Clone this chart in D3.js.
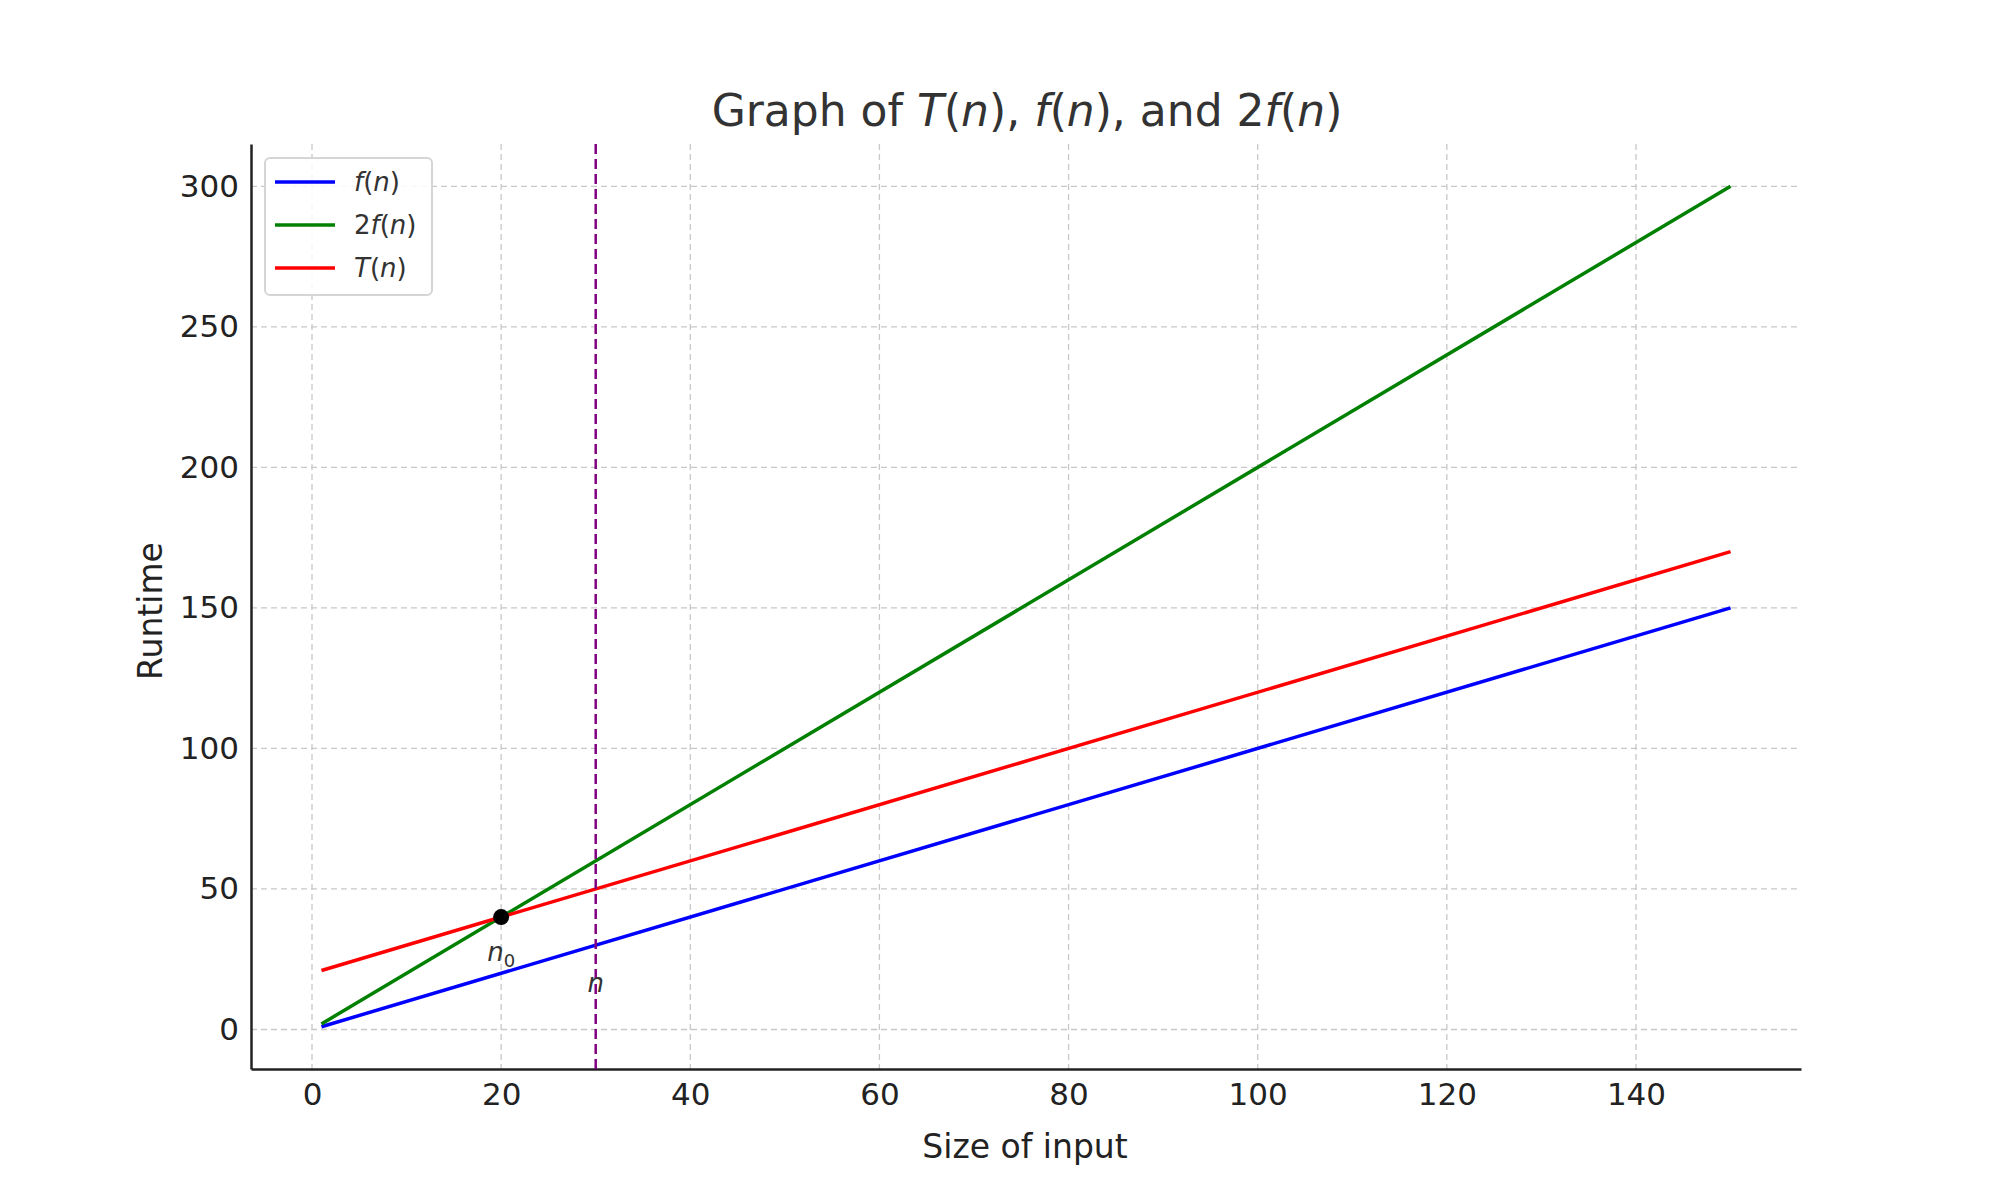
<!DOCTYPE html>
<html>
<head>
<script src="https://cdn.jsdelivr.net/npm/d3@7"></script>
<style>body{margin:0;background:#fff}text{font-family:"DejaVu Sans",sans-serif}</style>
</head>
<body>
<svg width="2000" height="1200" id="mainsvg"></svg>
<script>
// data
const nValues = [1, 150];
const fValues = [1, 150];
const twoFValues = [2, 300];
const tValues = [21, 170];
const xTicks = [0, 20, 40, 60, 80, 100, 120, 140];
const yTicks = [0, 50, 100, 150, 200, 250, 300];
const seriesNames = ['f', '2f', 'T'];
const seriesColors = ['#0000ff', '#008000', '#ff0000'];
const crossPoint = [20, 40];
const nLine = 30;

const svg = d3.select('svg');
const margin = {top: 144, right: 199, bottom: 131, left: 251};
const innerWidth = 2000 - margin.left - margin.right;
const innerHeight = 1200 - margin.top - margin.bottom;
const g = svg.append('g').attr('transform', `translate(${margin.left},${margin.top})`);

const xScale = d3.scaleLinear().domain([-6.45, 157.45]).range([0, innerWidth]);
const yScale = d3.scaleLinear().domain([-14.05, 315.05]).range([innerHeight, 0]);

// grid
g.selectAll('.vg').data(xTicks).join('line')
  .attr('x1', d => xScale(d)).attr('x2', d => xScale(d)).attr('y1', 0).attr('y2', innerHeight)
  .attr('stroke', '#c8c8c8').attr('stroke-dasharray', '6,4').attr('stroke-width', 1.3);
g.selectAll('.hg').data(yTicks).join('line')
  .attr('y1', d => yScale(d)).attr('y2', d => yScale(d)).attr('x1', 0).attr('x2', innerWidth)
  .attr('stroke', '#c8c8c8').attr('stroke-dasharray', '6,4').attr('stroke-width', 1.3);

// axes
const xAxis = g.append('g').attr('transform', `translate(0,${innerHeight})`)
  .call(d3.axisBottom(xScale).tickValues(xTicks).tickSize(0).tickPadding(14));
const yAxis = g.append('g').call(d3.axisLeft(yScale).tickValues(yTicks).tickSize(0).tickPadding(12));
[xAxis, yAxis].forEach(a => {
  a.selectAll('text').attr('font-size', 31).attr('fill', '#222');
  a.select('.domain').attr('stroke', '#222').attr('stroke-width', 2.5);
});

// lines
const line = d3.line().x(d => xScale(d[0])).y(d => yScale(d[1]));
const seriesData = [fValues, twoFValues, tValues];
seriesData.forEach((vals, i) => {
  g.append('path').attr('fill', 'none').attr('stroke', seriesColors[i]).attr('stroke-width', 3.5)
    .attr('d', line(nValues.map((n, j) => [n, vals[j]])));
});

// vertical n line
g.append('line').attr('x1', xScale(nLine)).attr('x2', xScale(nLine)).attr('y1', 0).attr('y2', innerHeight)
  .attr('stroke', '#800080').attr('stroke-width', 2.5).attr('stroke-dasharray', '10,5');

// point n0
g.append('circle').attr('cx', xScale(crossPoint[0])).attr('cy', yScale(crossPoint[1])).attr('r', 8).attr('fill', '#000');
const n0 = g.append('text').attr('x', xScale(crossPoint[0])).attr('y', yScale(28) + 10)
  .attr('text-anchor', 'middle').attr('font-size', 26).attr('fill', '#333').attr('font-style', 'italic');
n0.append('tspan').text('n');
n0.append('tspan').attr('font-style', 'normal').attr('font-size', 18).attr('dy', 6).text('0');
g.append('text').attr('x', xScale(nLine)).attr('y', yScale(17) + 10).attr('text-anchor', 'middle')
  .attr('font-size', 26).attr('fill', '#333').attr('font-style', 'italic').text('n');

// labels
svg.append('text').attr('x', 1027).attr('y', 126).attr('text-anchor', 'middle')
  .attr('font-size', 44).attr('fill', '#333')
  .html('Graph of <tspan font-style="italic">T</tspan>(<tspan font-style="italic">n</tspan>), <tspan font-style="italic">f</tspan>(<tspan font-style="italic">n</tspan>), and 2<tspan font-style="italic">f</tspan>(<tspan font-style="italic">n</tspan>)');
svg.append('text').attr('x', 1025).attr('y', 1158).attr('text-anchor', 'middle')
  .attr('font-size', 33).attr('fill', '#222').text('Size of input');
svg.append('text').attr('transform', 'translate(162,611) rotate(-90)').attr('text-anchor', 'middle')
  .attr('font-size', 33).attr('fill', '#222').text('Runtime');

// legend
const legend = g.append('g').attr('transform', 'translate(14,14)');
legend.append('rect').attr('width', 167).attr('height', 137).attr('rx', 5)
  .attr('fill', '#fff').attr('fill-opacity', 0.85).attr('stroke', '#d5d5d5').attr('stroke-width', 2);
const labelHtml = [
  '<tspan font-style="italic">f</tspan>(<tspan font-style="italic">n</tspan>)',
  '2<tspan font-style="italic">f</tspan>(<tspan font-style="italic">n</tspan>)',
  '<tspan font-style="italic">T</tspan>(<tspan font-style="italic">n</tspan>)'
];
seriesNames.forEach((s, i) => {
  const y = 24 + i * 43;
  legend.append('line').attr('x1', 10).attr('x2', 70).attr('y1', y).attr('y2', y)
    .attr('stroke', seriesColors[i]).attr('stroke-width', 3.5);
  legend.append('text').attr('x', 89).attr('y', y + 9).attr('font-size', 26).attr('fill', '#333').html(labelHtml[i]);
});
</script>
</body>
</html>
